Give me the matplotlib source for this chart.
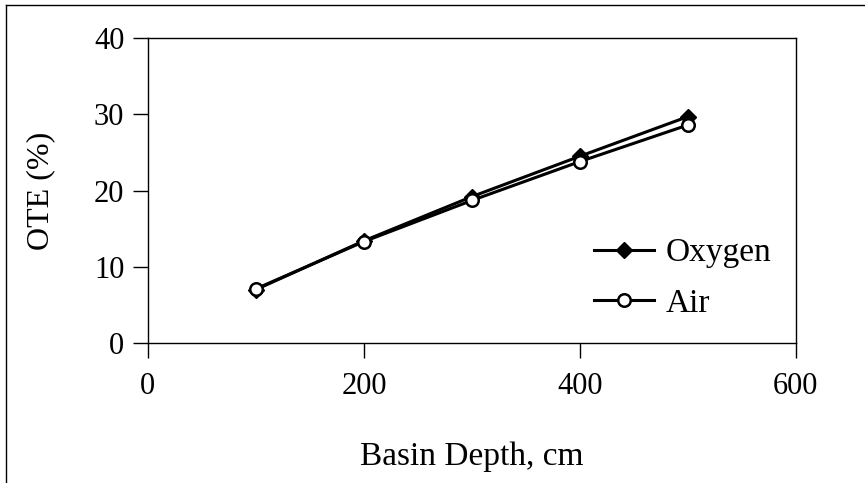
import numpy as np
import matplotlib
matplotlib.use("Agg")
import matplotlib.pyplot as plt
from matplotlib.lines import Line2D

# data
depth = [100, 200, 300, 400, 500]
oxygen = [7.0, 13.4, 19.2, 24.5, 29.7]
air = [7.1, 13.3, 18.7, 23.8, 28.6]

plt.rcParams["font.family"] = ["Liberation Serif", "DejaVu Serif"]

fig = plt.figure(figsize=(8.65, 4.83), dpi=100)
ax = fig.add_axes([0.171, 0.290, 0.749, 0.631])

ax.plot(depth, oxygen, color="black", lw=2.2, marker="D", ms=8.5,
        mfc="black", mec="black", label="Oxygen")
ax.plot(depth, air, color="black", lw=2.2, marker="o", ms=9,
        mfc="white", mec="black", mew=1.8, label="Air")

ax.set_xlim(0, 600)
ax.set_ylim(0, 40)
ax.set_xticks([0, 200, 400, 600])
ax.set_yticks([0, 10, 20, 30, 40])
ax.tick_params(direction="out", length=11, width=1, labelsize=22)
ax.tick_params(axis="y", pad=6)
ax.tick_params(axis="x", pad=10)
for s in ax.spines.values():
    s.set_linewidth(1)

ax.set_xlabel("Basin Depth, cm", fontsize=24, labelpad=29)
ax.set_ylabel("OTE (%)", fontsize=23, labelpad=28)

ax.legend(loc="upper left", bbox_to_anchor=(0.688, 0.345), frameon=False,
          fontsize=24, handlelength=1.8, handletextpad=0.35, labelspacing=0.6,
          borderpad=0, borderaxespad=0)

# outer frame (left and top edges visible)
fig.add_artist(Line2D([0.007, 0.007], [0.0, 0.99], transform=fig.transFigure,
                      color="black", lw=1))
fig.add_artist(Line2D([0.007, 1.0], [0.99, 0.99], transform=fig.transFigure,
                      color="black", lw=1))

fig.savefig("out.png", dpi=100)
